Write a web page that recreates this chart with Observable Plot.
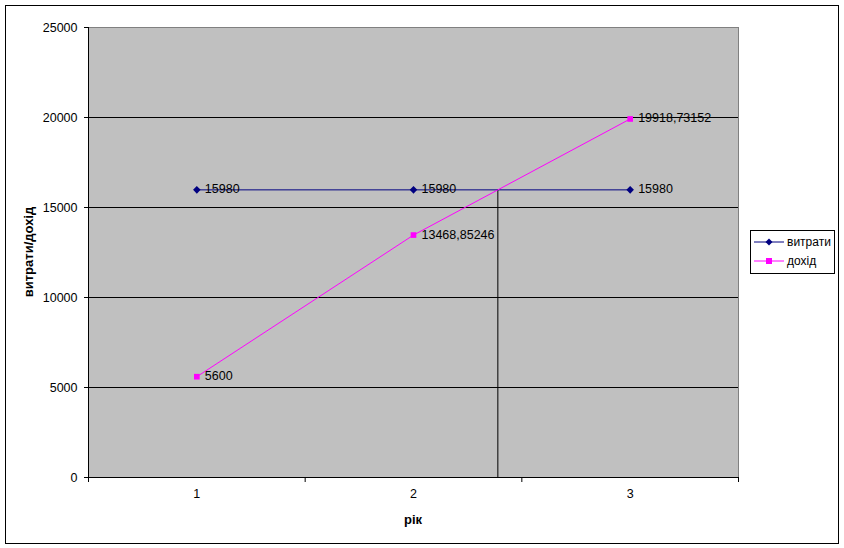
<!DOCTYPE html>
<html>
<head>
<meta charset="utf-8">
<script src="https://cdn.jsdelivr.net/npm/d3@7"></script>
<script src="https://cdn.jsdelivr.net/npm/@observablehq/plot@0.6"></script>
<style>
  body { margin: 0; background: white; font-family: "Liberation Sans", Arial, sans-serif; }
  #wrap { position: relative; width: 844px; height: 548px; }
  #border { position: absolute; left: 5px; top: 5px; width: 832px; height: 537px; border: 1px solid black; pointer-events: none; }
  #legend { position: absolute; left: 750px; top: 230px; width: 83px; height: 42px; border: 1px solid black; background: white; font-size: 12px; }
  #legend .row { position: absolute; left: 3px; height: 16px; display: flex; align-items: center; }
  #legend svg { margin-right: 3px; }
</style>
</head>
<body>
<div id="wrap"><div id="border"></div></div>
<script>
const years = [1, 2, 3];
const expenses = [15980, 15980, 15980];
const income = [5600, 13468.85246, 19918.73152];
const seriesNames = ["витрати", "дохід"];
const yTicks = [0, 5000, 10000, 15000, 20000, 25000];

const navy = "#000080", magenta = "#FF00FF";
const fmt = v => String(v).replace(".", ",");

const exp = years.map((x, i) => ({x, y: expenses[i]}));
const inc = years.map((x, i) => ({x, y: income[i]}));

// break-even: where income crosses expenses
let be = null;
for (let i = 0; i < years.length - 1; i++) {
  const d0 = income[i] - expenses[i], d1 = income[i+1] - expenses[i+1];
  if (d0 < 0 && d1 >= 0) {
    const t = -d0 / (d1 - d0);
    be = { x: years[i] + t * (years[i+1] - years[i]), y: expenses[i] + t * (expenses[i+1] - expenses[i]) };
  }
}

const chart = Plot.plot({
  width: 844, height: 548,
  marginLeft: 88, marginRight: 106, marginTop: 27, marginBottom: 71,
  style: { fontFamily: "Liberation Sans, Arial, sans-serif", fontSize: "12px", background: "transparent", color: "black" },
  x: { domain: [0.5, 3.5] },
  y: { domain: [0, 25000] },
  marks: [
    Plot.frame({ fill: "#c0c0c0", stroke: "none" }),
    Plot.ruleY([5000, 10000, 15000, 20000], { stroke: "black", strokeWidth: 1 }),
    Plot.ruleY([25000], { stroke: "#808080" }),
    Plot.ruleX([3.5], { stroke: "#808080" }),
    Plot.ruleX([be], { x: "x", y1: 0, y2: "y", stroke: "black" }),
    Plot.line(exp, { x: "x", y: "y", stroke: navy, strokeWidth: 1 }),
    Plot.line(inc, { x: "x", y: "y", stroke: magenta, strokeWidth: 1 }),
    Plot.dot(exp, { x: "x", y: "y", symbol: "diamond2", r: 3.4, fill: navy }),
    Plot.dot(inc, { x: "x", y: "y", symbol: "square", r: 3.2, fill: magenta }),
    Plot.text(exp, { x: "x", y: "y", text: d => fmt(d.y), dx: 8, dy: -0.5, textAnchor: "start", fill: "black", fontSize: 12.5 }),
    Plot.text(inc, { x: "x", y: "y", text: d => fmt(d.y), dx: 8, dy: -0.5, textAnchor: "start", fill: "black", fontSize: 12.5 }),
    Plot.ruleX([0.5], { stroke: "black" }),
    Plot.ruleY([0], { stroke: "black" }),
    Plot.axisY({ ticks: yTicks, tickSize: 4, tickPadding: 7, tickFormat: d => String(d), label: null, fontSize: 12.5 }),
    Plot.axisX({ ticks: [0.5, 1.5, 2.5, 3.5], tickSize: 5, tickFormat: () => "", label: null }),
    Plot.axisX({ ticks: years, tickSize: 0, tickPadding: 12, tickFormat: d => String(d), label: null, fontSize: 12.5 })
  ]
});

const svg = d3.select(chart);
svg.append("text")
  .attr("transform", "translate(33,252) rotate(-90)")
  .attr("text-anchor", "middle")
  .attr("font-weight", "bold")
  .attr("font-size", 13)
  .text(seriesNames.join("/"));
svg.append("text")
  .attr("x", 413).attr("y", 524)
  .attr("text-anchor", "middle")
  .attr("font-weight", "bold")
  .attr("font-size", 13)
  .text("рік");

const wrap = document.getElementById("wrap");
wrap.insertBefore(chart, wrap.firstChild);
chart.style.position = "absolute"; chart.style.left = "0"; chart.style.top = "0";

const legend = document.createElement("div");
legend.id = "legend";
const icons = [
  `<svg width="30" height="10"><line x1="0" y1="5" x2="30" y2="5" stroke="${navy}"/><path d="M15,1.5 L18.5,5 L15,8.5 L11.5,5 Z" fill="${navy}"/></svg>`,
  `<svg width="30" height="10"><line x1="0" y1="5" x2="30" y2="5" stroke="${magenta}"/><rect x="12" y="2" width="6" height="6" fill="${magenta}"/></svg>`
];
seriesNames.forEach((n, i) => {
  const row = document.createElement("div");
  row.className = "row";
  row.style.top = (3 + i * 19) + "px";
  row.innerHTML = icons[i] + `<span>${n}</span>`;
  legend.appendChild(row);
});
wrap.appendChild(legend);
</script>
</body>
</html>
